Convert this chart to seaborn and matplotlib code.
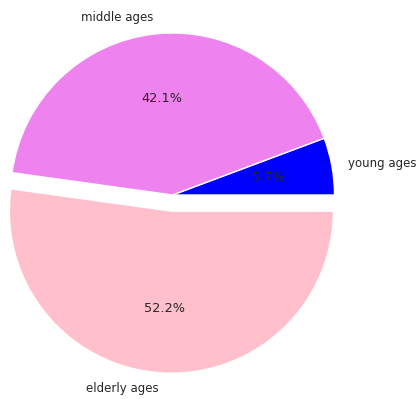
import matplotlib
matplotlib.use('Agg')
import matplotlib.pyplot as plt
import seaborn as sns

sns.set_theme(style='white')

labels = ['young ages', 'middle ages', 'elderly ages']
shares = [5.7, 42.1, 52.2]
colors = ['blue', 'violet', 'pink']
explode = [0, 0, 0.1]

fig = plt.figure(figsize=(4.18, 3.99), dpi=100)
ax = fig.add_axes([-30 / 418, 1.5 / 399, 405 / 418, 405 / 399])
wedges, texts, autotexts = ax.pie(shares, labels=labels, colors=colors, explode=explode,
                                  autopct='%1.1f%%', textprops={'color': '.15'})
for t in texts:
    t.set_fontsize(8.5)
for t in autotexts:
    t.set_fontsize(9.3)
ax.set_xlim(-1.25, 1.25)
ax.set_ylim(-1.25, 1.25)

fig.savefig('out.png', dpi=100)
